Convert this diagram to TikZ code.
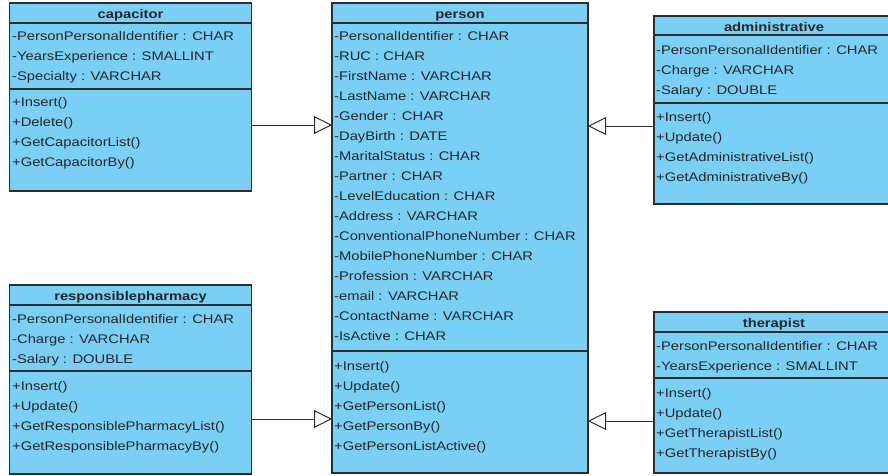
\documentclass[tikz,border=0pt]{standalone}
\usepackage{fontspec}
\setmainfont{Liberation Sans}[FakeStretch=1.18]
\usetikzlibrary{arrows.meta}
\definecolor{umlfill}{RGB}{122,207,245}
\definecolor{umlline}{RGB}{45,45,45}
\tikzset{
 classbox/.style={draw=umlline, fill=umlfill, line width=1.2pt, anchor=north west, inner sep=0pt, outer sep=0pt},
 row/.style={anchor=base west, inner sep=0pt, font=\fontsize{12.5}{15}\selectfont, text=black!85},
 ctitle/.style={anchor=base, inner sep=0pt, font=\fontsize{12.5}{15}\selectfont\bfseries, text=black!85},
 sepline/.style={draw=umlline, line width=1.2pt},
 gen/.style={draw=umlline, line width=1pt, -{Triangle[open, length=18pt, width=18pt, fill=white]}}
}
\newcommand{\umlrows}[4]{%
  \foreach \t [count=\i from 0] in {#4} {\node[row] (#3\i) at (#1, #2+5.5+20*\i) {\t};}}
\begin{document}
\begin{tikzpicture}[x=1pt,y=-1pt]
\useasboundingbox (0,0) rectangle (888,475);
\clip (0,0) rectangle (888,475);
% capacitor
\node[classbox, minimum width=242pt, minimum height=188pt] (capacitor) at (9.5,3) {};
\draw[sepline] (capacitor.west |- 0,23) -- (capacitor.east |- 0,23);
\draw[sepline] (capacitor.west |- 0,89) -- (capacitor.east |- 0,89);
\node[ctitle] (capT) at (130.5,18) {capacitor};
\umlrows{12}{35}{capA}{-PersonPersonalIdentifier : CHAR,-YearsExperience : SMALLINT,-Specialty : VARCHAR}
\umlrows{12}{101}{capM}{+Insert(),+Delete(),+GetCapacitorList(),+GetCapacitorBy()}
% person
\node[classbox, minimum width=256pt, minimum height=470pt] (person) at (332,3) {};
\draw[sepline] (person.west |- 0,23) -- (person.east |- 0,23);
\draw[sepline] (person.west |- 0,351) -- (person.east |- 0,351);
\node[ctitle] (perT) at (460,18) {person};
\umlrows{334}{35}{perA}{-PersonalIdentifier : CHAR,-RUC : CHAR,-FirstName : VARCHAR,-LastName : VARCHAR,-Gender : CHAR,-DayBirth : DATE,-MaritalStatus : CHAR,-Partner : CHAR,-LevelEducation : CHAR,-Address : VARCHAR,-ConventionalPhoneNumber : CHAR,-MobilePhoneNumber : CHAR,-Profession : VARCHAR,-email : VARCHAR,-ContactName : VARCHAR,-IsActive : CHAR}
\umlrows{334}{365}{perM}{+Insert(),+Update(),+GetPersonList(),+GetPersonBy(),+GetPersonListActive()}
% administrative
\node[classbox, minimum width=240pt, minimum height=188pt] (admin) at (654,16) {};
\draw[sepline] (admin.west |- 0,35) -- (admin.east |- 0,35);
\draw[sepline] (admin.west |- 0,103) -- (admin.east |- 0,103);
\node[ctitle] (admT) at (774,31) {administrative};
\umlrows{656}{49}{admA}{-PersonPersonalIdentifier : CHAR,-Charge : VARCHAR,-Salary : DOUBLE}
\umlrows{656}{116}{admM}{+Insert(),+Update(),+GetAdministrativeList(),+GetAdministrativeBy()}
% responsiblepharmacy
\node[classbox, minimum width=242pt, minimum height=189pt] (resp) at (9.5,285) {};
\draw[sepline] (resp.west |- 0,305) -- (resp.east |- 0,305);
\draw[sepline] (resp.west |- 0,371) -- (resp.east |- 0,371);
\node[ctitle] (resT) at (130.5,300.5) {responsiblepharmacy};
\umlrows{12}{318}{resA}{-PersonPersonalIdentifier : CHAR,-Charge : VARCHAR,-Salary : DOUBLE}
\umlrows{12}{385}{resM}{+Insert(),+Update(),+GetResponsiblePharmacyList(),+GetResponsiblePharmacyBy()}
% therapist
\node[classbox, minimum width=240pt, minimum height=161pt] (ther) at (654,312) {};
\draw[sepline] (ther.west |- 0,332) -- (ther.east |- 0,332);
\draw[sepline] (ther.west |- 0,378) -- (ther.east |- 0,378);
\node[ctitle] (thT) at (774,327.5) {therapist};
\umlrows{656}{345}{thA}{-PersonPersonalIdentifier : CHAR,-YearsExperience : SMALLINT}
\umlrows{656}{392}{thM}{+Insert(),+Update(),+GetTherapistList(),+GetTherapistBy()}
% generalizations
\draw[gen] (capacitor.east |- 0,125) -- (person.west |- 0,125);
\draw[gen] (admin.west |- 0,126) -- (person.east |- 0,126);
\draw[gen] (resp.east |- 0,419) -- (person.west |- 0,419);
\draw[gen] (ther.west |- 0,421) -- (person.east |- 0,421);
\end{tikzpicture}
\end{document}
